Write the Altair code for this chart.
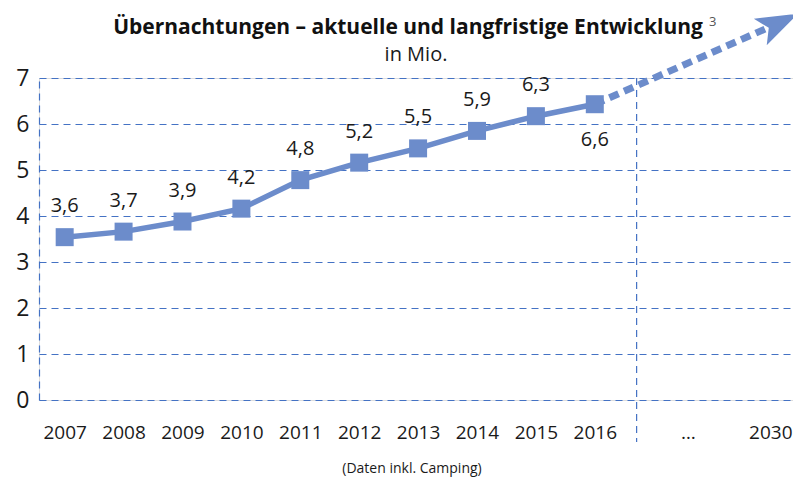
import altair as alt
import pandas as pd

# ---- data ----
years = ["2007", "2008", "2009", "2010", "2011", "2012", "2013", "2014", "2015", "2016"]
values = [3.54, 3.66, 3.88, 4.16, 4.78, 5.16, 5.47, 5.85, 6.17, 6.43]
value_labels = ["3,6", "3,7", "3,9", "4,2", "4,8", "5,2", "5,5", "5,9", "6,3", "6,6"]
extra_ticks = ["…", "2030"]
extra_tick_pos = [10.58, 11.98]
divider_pos = 9.71
trend_end = [12.13, 8.2]   # arrow head of the long-term projection
y_ticks = [0, 1, 2, 3, 4, 5, 6, 7]

title = "Übernachtungen – aktuelle und langfristige Entwicklung"
subtitle = "in Mio."
footnote = "(Daten inkl. Camping)"

# ---- styling ----
LINE = "#6C8CCB"
GRID = "#4472C4"
FONT = "Open Sans"
W, H = 754, 322

df = pd.DataFrame({"pos": list(range(len(values))), "value": values,
                   "label": value_labels, "year": years})
last = len(values) - 1
trend = pd.DataFrame({"pos": [last, trend_end[0]], "value": [values[-1], trend_end[1]]})
head = pd.DataFrame({"pos": [trend_end[0]], "value": [trend_end[1]]})

tick_values = list(range(len(years))) + extra_tick_pos
tick_labels = years + extra_ticks
expr = "''"
for v, l in reversed(list(zip(tick_values, tick_labels))):
    expr = f"(abs(datum.value - {v}) < 0.01 ? '{l}' : {expr})"

xscale = alt.Scale(domain=[-0.436, 12.365], nice=False, zero=False)
yscale = alt.Scale(domain=[0, 7], nice=False, zero=False)

x = alt.X("pos:Q", scale=xscale,
          axis=alt.Axis(values=tick_values, labelExpr=expr, title=None, domain=False,
                        ticks=False, grid=False, labelFontSize=19, labelPadding=23,
                        labelColor="#1a1a1a", labelFont=FONT, labelFlush=False,
                        labelOverlap=False))
y = alt.Y("value:Q", scale=yscale,
          axis=alt.Axis(values=y_ticks, title=None, grid=True, gridDash=[7, 5],
                        gridColor=GRID, gridWidth=1.2, domain=True, domainDash=[7, 5],
                        domainColor=GRID, domainWidth=1.2, ticks=False, labelFontSize=23,
                        labelPadding=10, labelFont=FONT, labelColor="#1a1a1a"))

base = alt.Chart(df)
line = base.mark_line(color=LINE, strokeWidth=5.5).encode(x=x, y=y)
pts = base.mark_point(shape="square", filled=True, size=324, color=LINE, opacity=1).encode(
    x="pos:Q", y="value:Q")
lab_above = base.transform_filter(f"datum.pos < {last}").mark_text(
    dy=-31, fontSize=20, font=FONT, color="#1a1a1a").encode(x="pos:Q", y="value:Q", text="label:N")
lab_below = base.transform_filter(f"datum.pos == {last}").mark_text(
    dy=36, fontSize=20, font=FONT, color="#1a1a1a").encode(x="pos:Q", y="value:Q", text="label:N")

arrow = alt.Chart(trend).mark_line(color=LINE, strokeWidth=7, strokeDash=[10, 6]).encode(
    x="pos:Q", y="value:Q")
arrow_head = alt.Chart(head).mark_point(
    shape="M 1 0 L -1 -0.7 L -0.55 0 L -1 0.7 Z", filled=True, size=1764, angle=334,
    color=LINE, opacity=1).encode(x="pos:Q", y="value:Q")

divider = alt.Chart(pd.DataFrame({"d": [divider_pos]})).mark_rule(
    color=GRID, strokeDash=[7, 5], strokeWidth=1.2).encode(
    x="d:Q", y=alt.value(0), y2=alt.value(364))

t1 = alt.Chart(pd.DataFrame({"t": [title]})).mark_text(
    fontSize=21, fontWeight="bold", font=FONT, color="#111111", baseline="middle").encode(
    text="t:N", x=alt.value(W / 2 - 8), y=alt.value(-50))
sup = alt.Chart(pd.DataFrame({"t": ["3"]})).mark_text(
    fontSize=13, font=FONT, color="#555555", align="left").encode(
    text="t:N", x=alt.value(670), y=alt.value(-56))
t2 = alt.Chart(pd.DataFrame({"t": [subtitle]})).mark_text(
    fontSize=20, font=FONT, color="#1a1a1a", baseline="middle").encode(
    text="t:N", x=alt.value(W / 2), y=alt.value(-23))
foot = alt.Chart(pd.DataFrame({"t": [footnote]})).mark_text(
    fontSize=14, font=FONT, color="#1a1a1a", baseline="middle").encode(
    text="t:N", x=alt.value(W / 2 - 4), y=alt.value(391))

chart = alt.layer(line, divider, arrow, arrow_head, pts, lab_above, lab_below,
                  t1, sup, t2, foot).properties(
    width=W, height=H,
    autosize=alt.AutoSizeParams(type="none"),
    padding={"left": 31, "top": 70, "right": 0, "bottom": 78},
).configure_view(stroke=None).configure(background="white")

chart.save("out.html", embed_options={"renderer": "svg", "actions": False})
